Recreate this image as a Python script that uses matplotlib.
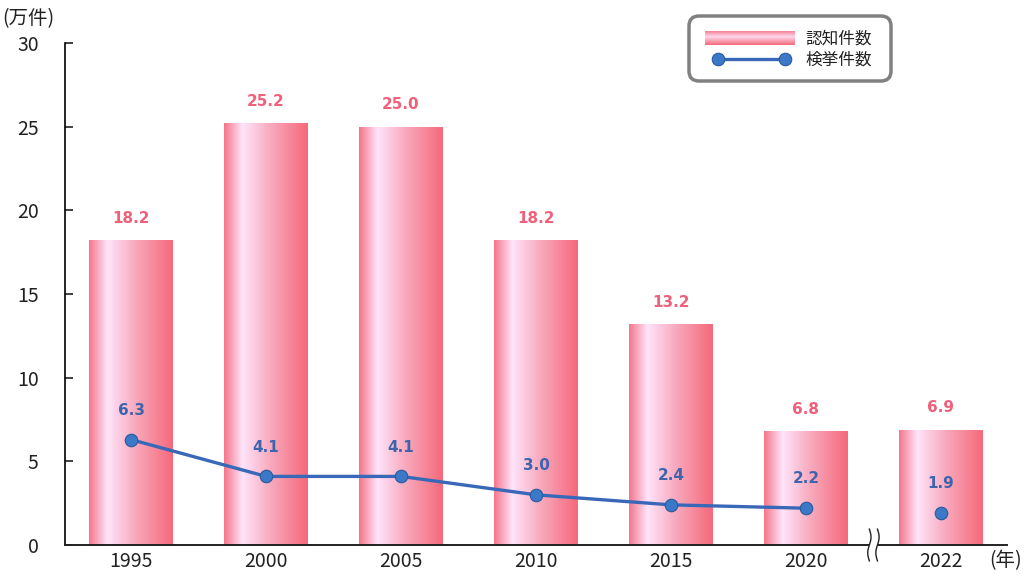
import numpy as np
import matplotlib
matplotlib.use("Agg")
import matplotlib.pyplot as plt
from matplotlib.colors import LinearSegmentedColormap
from matplotlib.patches import FancyBboxPatch

plt.rcParams['font.family'] = ['Noto Sans CJK JP', 'DejaVu Sans']

years = ['1995', '2000', '2005', '2010', '2015', '2020', '2022']
ninchi = [18.2, 25.2, 25.0, 18.2, 13.2, 6.8, 6.9]     # 認知件数
kenkyo = [6.3, 4.1, 4.1, 3.0, 2.4, 2.2, 1.9]          # 検挙件数

red_txt = '#F0607A'
blue = '#3A68B8'
blue_txt = '#3F64AE'

# bar gradient (left -> light -> right)
bar_cmap = LinearSegmentedColormap.from_list('barg', [
    (0.0, (245/255, 118/255, 138/255)),
    (0.22, (255/255, 228/255, 250/255)),
    (0.55, (248/255, 170/255, 190/255)),
    (1.0, (245/255, 105/255, 122/255))])
grad = np.linspace(0, 1, 256).reshape(1, -1)

fig = plt.figure(figsize=(10.28, 5.74), dpi=100)
ax = fig.add_axes([0.0632, 0.0505, 0.9164, 0.8745])

x = np.arange(len(years))
w = 0.62
bars = ax.bar(x, ninchi, width=w, color='none', edgecolor='none', zorder=2)
for b in bars:
    x0, y0 = b.get_x(), b.get_y()
    im = ax.imshow(grad, cmap=bar_cmap, aspect='auto', zorder=2,
                   extent=[x0, x0 + b.get_width(), y0, y0 + b.get_height()])
    im.set_clip_path(b)

for xi, v in zip(x, ninchi):
    ax.text(xi, v + 1.3, f'{v:.1f}', ha='center', va='center', color=red_txt,
            fontsize=11, fontweight='bold', family='DejaVu Sans')

# 検挙件数 line (1995-2020 connected, 2022 separate)
ax.plot(x[:6], kenkyo[:6], color=blue, lw=2.4, zorder=3)
ax.plot(x, kenkyo, 'o', color='#3C78C8', mec='#2A5A9E', mew=0.8, ms=9, zorder=4)
for xi, v in zip(x, kenkyo):
    ax.text(xi, v + 1.75, f'{v:.1f}', ha='center', va='center', color=blue_txt,
            fontsize=11, fontweight='bold', family='DejaVu Sans')

ax.set_xlim(-0.49, 6.49)
ax.set_ylim(0, 30)
ax.set_yticks(range(0, 31, 5))
ax.set_xticks(x)
ax.set_xticklabels(years)
ax.tick_params(axis='y', direction='in', length=6, width=1.2, pad=19, labelsize=14, colors='#222222')
ax.tick_params(axis='x', length=0, pad=4, labelsize=14, colors='#222222')
for s in ['top', 'right', 'bottom']:
    ax.spines[s].set_visible(False)
ax.spines['left'].set_linewidth(1.2)

# x axis with a break between 2020 and 2022
ax.plot([-0.49, 5.46], [0, 0], color='#222222', lw=1.4, clip_on=False, zorder=5)
ax.plot([5.54, 6.49], [0, 0], color='#222222', lw=1.4, clip_on=False, zorder=5)
t = np.linspace(0, 1, 60)
for bx in [5.47, 5.53]:
    ax.plot(bx + 0.012 * np.sin(2 * np.pi * t), 0.95 - 1.9 * t, color='#222222', lw=1,
            clip_on=False, zorder=5)

fig.text(0.002, 0.968, '(万件)', fontsize=14, color='#222222', va='center', ha='left')
fig.text(0.962, 0.024, '(年)', fontsize=14, color='#222222', va='center', ha='left')

# legend drawn in pixel space
lg = fig.add_axes([0, 0, 1, 1], zorder=10)
lg.set_xlim(0, 1028)
lg.set_ylim(574, 0)
lg.axis('off')
lg.add_patch(FancyBboxPatch((689, 16), 202, 65, boxstyle='round,pad=0,rounding_size=10',
                            fc='white', ec='#808080', lw=2.5, zorder=1))
leg_cmap = LinearSegmentedColormap.from_list('legg', [
    (0.0, (245/255, 130/255, 150/255)),
    (0.4, (255/255, 215/255, 235/255)),
    (1.0, (245/255, 105/255, 122/255))])
lg.imshow(np.linspace(0, 1, 64).reshape(-1, 1), cmap=leg_cmap, aspect='auto',
          extent=[705, 795, 45, 31], origin='upper', zorder=3)
lg.set_xlim(0, 1028)
lg.set_ylim(574, 0)
lg.plot([718, 785], [59, 59], color=blue, lw=2.4, zorder=3)
lg.plot([718, 785], [59, 59], 'o', color='#3C78C8', mec='#2A5A9E', mew=0.8, ms=9, zorder=4)
lg.text(805, 39, '認知件数', fontsize=12, va='center', ha='left', color='#222222', zorder=4)
lg.text(805, 60, '検挙件数', fontsize=12, va='center', ha='left', color='#222222', zorder=4)

fig.savefig('out.png', dpi=100)
